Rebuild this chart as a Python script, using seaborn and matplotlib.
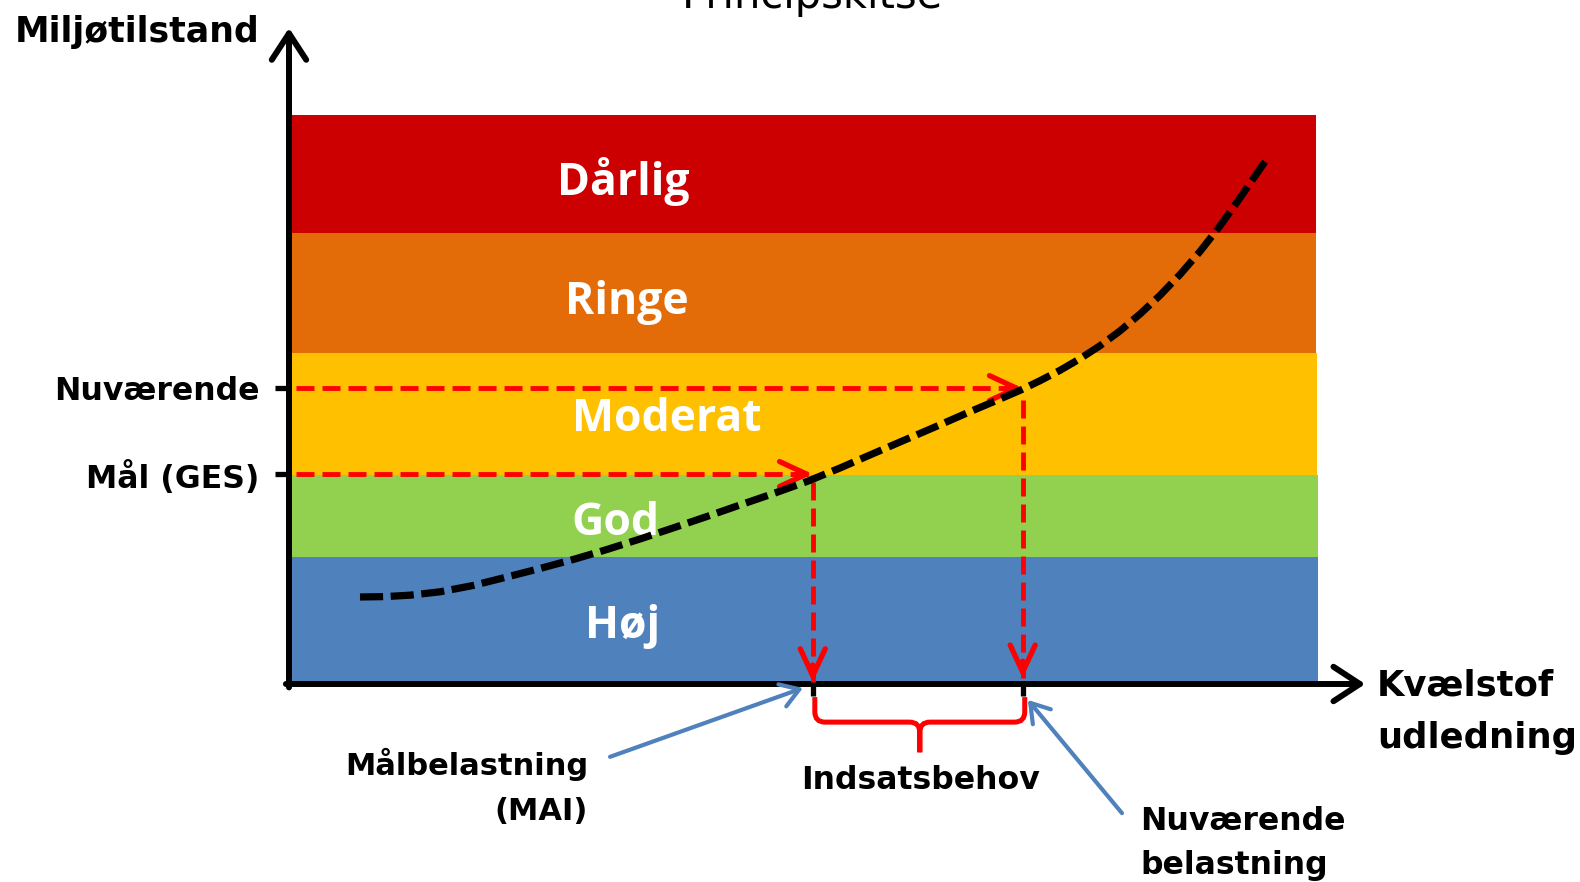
import matplotlib
matplotlib.use("Agg")
import matplotlib.pyplot as plt
import seaborn as sns
from matplotlib.path import Path
from matplotlib.patches import PathPatch

# --- data (conceptual units: load 0-100 on x, state 0-100 on y) ---
band_names = ["Høj", "God", "Moderat", "Ringe", "Dårlig"]
band_bottom = [0.5, 22.3, 36.7, 58.2, 79.3]
band_top = [22.3, 36.7, 58.2, 79.3, 100.2]
band_right = [100.2, 100.2, 99.9, 99.8, 99.8]
band_colors = ["#4F81BD", "#92D050", "#FFC000", "#E36C09", "#CC0000"]
band_label_x = [32.4, 31.7, 36.7, 32.8, 32.5]
band_label_y = [8.0, 26.2, 44.5, 65.1, 85.9]

curve_x = [6.90, 9.33, 11.76, 14.67, 17.88, 20.99, 24.39, 27.79, 30.90, 34.11,
           37.32, 40.62, 43.83, 47.23, 50.34, 53.55, 56.46, 59.38, 62.78, 65.89,
           69.10, 71.23, 72.98, 74.93, 76.87, 78.82, 80.76, 82.70, 84.65, 86.59,
           88.53, 90.48, 92.42, 94.85]
curve_y = [15.29, 15.36, 15.61, 16.20, 17.31, 18.72, 20.30, 21.97, 23.64, 25.48,
           27.42, 29.44, 31.46, 33.57, 35.59, 37.96, 40.25, 42.53, 45.17, 47.63,
           50.09, 51.76, 53.30, 55.13, 57.17, 59.46, 62.06, 65.01, 68.31, 71.97,
           76.01, 80.51, 85.43, 91.81]

state_ticks = [36.9, 52.0]
state_labels = ["Mål (GES)", "Nuværende"]
load_ticks = [50.9, 71.3]
curve_hit_y = [35.5, 49.9]   # where the vertical guides leave the curve
guide_end_y = [0.35, 1.0]

sns.set_theme(style="white")
plt.rcParams["font.family"] = ["DejaVu Sans"]

W, H = 1580, 882
fig = plt.figure(figsize=(W / 100, H / 100), dpi=100)
ax = fig.add_axes([289 / W, 1 - 684 / H, 1029 / W, 569 / H])
ax.set_xlim(0, 100)
ax.set_ylim(0, 100)
for s in ax.spines.values():
    s.set_visible(False)

# colour bands
for b, t, r, c in zip(band_bottom, band_top, band_right, band_colors):
    ax.bar(0.2, t - b, bottom=b, width=r - 0.2, align="edge", color=c,
           linewidth=0, zorder=1)
for name, lx, ly in zip(band_names, band_label_x, band_label_y):
    ax.text(lx, ly, name, ha="center", va="baseline", color="white",
            fontsize=32, fontweight="bold", family=["Open Sans", "DejaVu Sans"],
            zorder=3)

# pressure-state curve
sns.lineplot(x=curve_x, y=curve_y, ax=ax, sort=False, color="black", lw=5.2,
             linestyle=(0, (3.2, 1.05)), zorder=5)

# red guide lines
red_dash = (0, (3.7, 1.65))
head_red = dict(arrowstyle="->,head_length=0.97,head_width=0.45", lw=3.8,
                color="#FF0000", shrinkA=0, shrinkB=0, mutation_scale=20,
                clip_on=False)
for sy, lx, hy, ey in zip(state_ticks, load_ticks, curve_hit_y, guide_end_y):
    ax.plot([0.7, lx], [sy, sy], color="#FF0000", lw=3.5, linestyle=red_dash,
            zorder=4, clip_on=False)
    ax.annotate("", xy=(lx, sy), xytext=(lx - 1.5, sy), arrowprops=head_red,
                annotation_clip=False, zorder=4)
    ax.plot([lx, lx], [hy, ey], color="#FF0000", lw=3.5, linestyle=red_dash,
            zorder=4, clip_on=False)
    ax.annotate("", xy=(lx, ey), xytext=(lx, ey + 3), arrowprops=head_red,
                annotation_clip=False, zorder=4)

# axes with arrows
head_black = dict(arrowstyle="->,head_length=0.95,head_width=0.62", lw=4.3,
                  color="black", shrinkA=0, shrinkB=0, mutation_scale=20,
                  clip_on=False)
ax.annotate("", xy=(0, 115.3), xytext=(0, -0.6), arrowprops=head_black,
            annotation_clip=False)
ax.annotate("", xy=(104.6, 0), xytext=(-0.3, 0), arrowprops=head_black,
            annotation_clip=False)

ax.set_yticks(state_ticks, state_labels)
ax.set_xticks(load_ticks, ["", ""])
ax.tick_params(axis="y", left=True, length=10, width=3.8, pad=11,
               color="black", labelsize=22.7, labelcolor="black")
ax.tick_params(axis="x", bottom=True, length=8.5, width=3.8, color="black")
for lbl in ax.get_yticklabels():
    lbl.set_fontweight("bold")

# brace under the load difference
x1, x2 = load_ticks[0] + 0.2, load_ticks[1] + 0.2
xm = (x1 + x2) / 2
yt, yh, yb, rx, ry = -2.3, -6.7, -12.0, 1.0, 1.8
verts, codes = [], []
for xe, sgn in [(x1, 1), (x2, -1)]:
    verts += [(xe, yt), (xe, yh + ry), (xe, yh), (xe + sgn * rx, yh),
              (xm - sgn * rx, yh), (xm, yh), (xm, yh - ry), (xm, yb)]
    codes += [Path.MOVETO, Path.LINETO, Path.CURVE3, Path.CURVE3,
              Path.LINETO, Path.CURVE3, Path.CURVE3, Path.LINETO]
ax.add_patch(PathPatch(Path(verts, codes), fill=False, ec="#FF0000", lw=3.6,
                       clip_on=False))

# blue pointer arrows
head_blue = dict(arrowstyle="->,head_length=0.65,head_width=0.42", lw=3,
                 color="#4F81BD", shrinkA=0, shrinkB=0, mutation_scale=20,
                 clip_on=False)
ax.annotate("", xy=(49.95, -0.7), xytext=(31.2, -12.8), arrowprops=head_blue,
            annotation_clip=False)
ax.annotate("", xy=(71.8, -2.8), xytext=(80.95, -22.7), arrowprops=head_blue,
            annotation_clip=False)

# free text (pixel positions of baselines)
texts = [
    ("Principskitse", 813, 8, "center", 30, "normal"),
    ("Miljøtilstand", 15, 42, "left", 25, "bold"),
    ("Kvælstof", 1377, 695, "left", 25.5, "bold"),
    ("udledning", 1377, 748, "left", 25.5, "bold"),
    ("Målbelastning", 588, 775, "right", 22, "bold"),
    ("(MAI)", 588, 820, "right", 22, "bold"),
    ("Indsatsbehov", 920, 789, "center", 22.7, "bold"),
    ("Nuværende", 1140, 830, "left", 22.7, "bold"),
    ("belastning", 1140, 874, "left", 22.7, "bold"),
]
for s, px, py, ha, fs, fw in texts:
    fig.text(px / W, 1 - py / H, s, ha=ha, va="baseline", fontsize=fs,
             fontweight=fw, color="black")

fig.savefig("out.png", dpi=100)
